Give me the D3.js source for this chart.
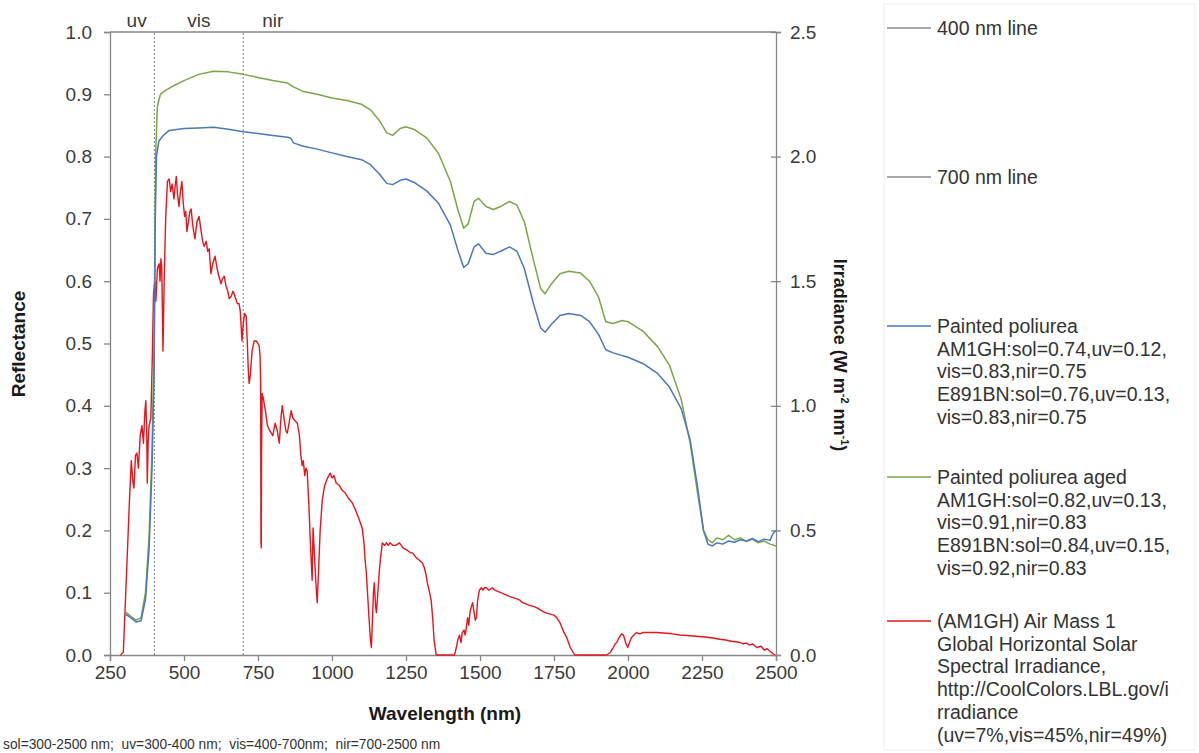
<!DOCTYPE html>
<html>
<head>
<meta charset="utf-8">
<script src="https://cdn.jsdelivr.net/npm/d3@7"></script>
<style>
  body { margin: 0; background: #fff; }
  svg { display: block; font-family: "Liberation Sans", Arial, sans-serif; }
</style>
</head>
<body>
<svg id="chart" width="1199" height="753"></svg>
<script>
// reflectance spectra [wavelength nm, reflectance]
const paintedPoliurea = [[300,0.066],[320,0.06],[338,0.053],[355,0.055],[370,0.09],[382,0.17],[392,0.3],[399,0.45],[403,0.7],[407,0.8],[415,0.825],[432,0.835],[450,0.842],[500,0.845],[550,0.846],[600,0.847],[650,0.844],[700,0.84],[750,0.837],[800,0.834],[850,0.831],[860,0.83],[870,0.822],[900,0.817],[950,0.812],[1000,0.806],[1050,0.8],[1100,0.795],[1130,0.787],[1160,0.772],[1185,0.757],[1205,0.755],[1230,0.762],[1250,0.764],[1280,0.758],[1320,0.745],[1360,0.725],[1400,0.69],[1425,0.65],[1445,0.622],[1460,0.628],[1480,0.655],[1495,0.66],[1520,0.645],[1545,0.643],[1570,0.648],[1600,0.655],[1625,0.648],[1650,0.62],[1680,0.565],[1705,0.525],[1720,0.518],[1740,0.53],[1770,0.545],[1800,0.548],[1840,0.545],[1870,0.535],[1900,0.515],[1925,0.49],[1950,0.485],[2000,0.478],[2050,0.468],[2100,0.452],[2140,0.43],[2180,0.395],[2210,0.345],[2235,0.27],[2255,0.2],[2270,0.178],[2285,0.175],[2300,0.18],[2320,0.178],[2340,0.183],[2360,0.181],[2380,0.185],[2400,0.183],[2420,0.187],[2440,0.182],[2460,0.186],[2480,0.184],[2490,0.195],[2500,0.2]];

const paintedPoliureaAged = [[300,0.07],[320,0.062],[338,0.056],[355,0.06],[370,0.1],[382,0.19],[392,0.33],[399,0.5],[404,0.8],[410,0.88],[420,0.9],[440,0.907],[470,0.915],[500,0.922],[550,0.932],[600,0.937],[650,0.936],[700,0.932],[750,0.927],[800,0.922],[850,0.918],[870,0.912],[900,0.905],[950,0.9],[1000,0.894],[1050,0.89],[1100,0.884],[1130,0.875],[1160,0.858],[1185,0.838],[1205,0.834],[1230,0.845],[1250,0.848],[1280,0.843],[1320,0.83],[1360,0.805],[1400,0.76],[1425,0.715],[1445,0.685],[1460,0.692],[1480,0.728],[1495,0.733],[1520,0.72],[1545,0.715],[1570,0.72],[1600,0.728],[1625,0.722],[1650,0.695],[1680,0.635],[1705,0.588],[1720,0.58],[1740,0.595],[1770,0.612],[1800,0.616],[1840,0.613],[1870,0.6],[1900,0.575],[1925,0.535],[1950,0.532],[1980,0.537],[2000,0.535],[2050,0.52],[2100,0.495],[2140,0.465],[2180,0.41],[2210,0.34],[2235,0.26],[2255,0.2],[2270,0.185],[2285,0.18],[2300,0.188],[2320,0.185],[2340,0.192],[2360,0.185],[2380,0.188],[2400,0.182],[2420,0.186],[2440,0.18],[2460,0.183],[2480,0.178],[2500,0.175]];

// solar irradiance [wavelength nm, W m-2 nm-1]
const am1gh = [[285,0],[295,0.01],[305,0.3],[315,0.6],[322,0.78],[327,0.7],[331,0.67],[336,0.8],[341,0.81],[346,0.75],[352,0.88],[358,0.92],[363,0.85],[368,0.98],[371,1.02],[374,0.9],[376,0.69],[379,0.85],[382,0.92],[388,0.95],[393,1.2],[397,1.45],[401,1.5],[405,1.42],[410,1.55],[416,1.57],[419,1.5],[422,1.59],[425,1.55],[429,1.22],[433,1.5],[438,1.75],[444,1.9],[450,1.91],[455,1.86],[460,1.89],[466,1.83],[470,1.88],[474,1.92],[478,1.85],[483,1.8],[488,1.86],[493,1.9],[497,1.82],[502,1.76],[506,1.78],[510,1.7],[515,1.74],[520,1.78],[524,1.79],[530,1.72],[537,1.67],[544,1.74],[551,1.76],[558,1.7],[563,1.66],[568,1.64],[575,1.66],[580,1.62],[585,1.63],[588,1.58],[591,1.53],[597,1.57],[605,1.6],[612,1.55],[618,1.52],[625,1.49],[630,1.51],[636,1.52],[642,1.48],[648,1.46],[653,1.43],[660,1.44],[665,1.46],[669,1.45],[675,1.43],[680,1.41],[686,1.41],[690,1.38],[693,1.32],[696,1.26],[700,1.33],[705,1.37],[710,1.36],[714,1.25],[717,1.15],[720,1.09],[724,1.12],[730,1.22],[737,1.26],[744,1.26],[750,1.25],[754,1.24],[757,1.2],[759,1.1],[760,0.45],[761,0.43],[762,0.8],[764,1.05],[768,1.03],[775,0.98],[782,0.92],[790,0.9],[800,0.88],[808,0.93],[815,0.9],[822,0.85],[828,0.96],[832,1.0],[838,0.95],[844,0.9],[849,0.89],[855,0.93],[862,0.98],[868,0.95],[875,0.94],[883,0.93],[890,0.88],[895,0.8],[899,0.76],[903,0.78],[908,0.72],[912,0.75],[916,0.74],[922,0.6],[927,0.45],[933,0.3],[936,0.51],[940,0.42],[945,0.3],[950,0.21],[955,0.35],[960,0.5],[967,0.62],[975,0.68],[985,0.71],[994,0.73],[1000,0.71],[1007,0.72],[1014,0.69],[1025,0.68],[1035,0.66],[1045,0.65],[1055,0.63],[1062,0.62],[1069,0.61],[1080,0.58],[1090,0.55],[1096,0.53],[1102,0.51],[1108,0.45],[1112,0.38],[1116,0.33],[1120,0.25],[1125,0.15],[1130,0.06],[1133,0.03],[1137,0.15],[1140,0.25],[1143,0.29],[1147,0.2],[1150,0.17],[1155,0.25],[1160,0.34],[1165,0.4],[1170,0.45],[1178,0.44],[1184,0.45],[1190,0.44],[1196,0.45],[1205,0.44],[1215,0.44],[1228,0.45],[1240,0.43],[1255,0.42],[1265,0.41],[1272,0.41],[1285,0.39],[1295,0.38],[1305,0.37],[1312,0.35],[1318,0.32],[1322,0.29],[1328,0.26],[1335,0.22],[1340,0.15],[1345,0.06],[1352,0],[1414,0],[1420,0.03],[1425,0.06],[1431,0.08],[1436,0.05],[1440,0.09],[1446,0.1],[1450,0.08],[1454,0.11],[1458,0.15],[1462,0.12],[1466,0.17],[1470,0.19],[1475,0.21],[1480,0.17],[1484,0.14],[1488,0.15],[1492,0.22],[1498,0.26],[1505,0.27],[1510,0.26],[1515,0.27],[1522,0.27],[1530,0.26],[1542,0.27],[1550,0.26],[1560,0.255],[1570,0.25],[1580,0.245],[1590,0.24],[1600,0.235],[1612,0.23],[1625,0.225],[1635,0.22],[1644,0.21],[1655,0.205],[1665,0.2],[1680,0.195],[1691,0.19],[1705,0.18],[1720,0.17],[1735,0.165],[1750,0.16],[1759,0.15],[1770,0.13],[1780,0.1],[1793,0.07],[1805,0.03],[1815,0.01],[1820,0],[1928,0],[1940,0.01],[1950,0.03],[1957,0.045],[1962,0.05],[1970,0.07],[1978,0.085],[1985,0.08],[1992,0.05],[1999,0.03],[2005,0.05],[2012,0.07],[2020,0.08],[2029,0.09],[2040,0.085],[2050,0.09],[2063,0.09],[2080,0.09],[2097,0.09],[2120,0.088],[2150,0.085],[2175,0.08],[2200,0.078],[2230,0.075],[2260,0.072],[2287,0.068],[2310,0.063],[2330,0.06],[2350,0.055],[2365,0.053],[2378,0.05],[2390,0.045],[2400,0.048],[2410,0.04],[2420,0.045],[2435,0.03],[2450,0.035],[2460,0.02],[2470,0.025],[2480,0.015],[2490,0.005],[2497,0]];

const xTicks = [250, 500, 750, 1000, 1250, 1500, 1750, 2000, 2250, 2500];
const yLeftTicks = [0, 0.1, 0.2, 0.3, 0.4, 0.5, 0.6, 0.7, 0.8, 0.9, 1.0];
const yRightTicks = [0, 0.5, 1.0, 1.5, 2.0, 2.5];
const bandLines = [400, 700];
const bandLabels = [{ text: "uv", at: 340 }, { text: "vis", at: 550 }, { text: "nir", at: 800 }];

const legendItems = [
  { color: "#8c8c8c", y: 28, lines: ["400 nm line"] },
  { color: "#8c8c8c", y: 177, lines: ["700 nm line"] },
  { color: "#4a78bd", y: 326, lines: ["Painted poliurea", "AM1GH:sol=0.74,uv=0.12,", "vis=0.83,nir=0.75", "E891BN:sol=0.76,uv=0.13,", "vis=0.83,nir=0.75"] },
  { color: "#79a646", y: 477, lines: ["Painted poliurea aged", "AM1GH:sol=0.82,uv=0.13,", "vis=0.91,nir=0.83", "E891BN:sol=0.84,uv=0.15,", "vis=0.92,nir=0.83"] },
  { color: "#e8141b", y: 621, lines: ["(AM1GH) Air Mass 1", "Global Horizontal Solar", "Spectral Irradiance,", "http://CoolColors.LBL.gov/i", "rradiance", "(uv=7%,vis=45%,nir=49%)"] }
];

const svg = d3.select("#chart");
const axisColor = "#868686";
const textColor = "#3b3b3b";

const x = d3.scaleLinear().domain([250, 2500]).range([110, 776]);
const yL = d3.scaleLinear().domain([0, 1]).range([655, 32]);
const yR = d3.scaleLinear().domain([0, 2.5]).range([655, 32]);

svg.append("defs").append("clipPath").attr("id", "plot")
  .append("rect").attr("x", 110).attr("y", 28).attr("width", 668).attr("height", 628);

// top frame line
svg.append("line")
  .attr("x1", x(250)).attr("x2", x(2500)).attr("y1", yL(1)).attr("y2", yL(1))
  .attr("stroke", axisColor).attr("stroke-width", 1.3);

// 400 / 700 nm dotted lines
svg.append("g").selectAll("line").data(bandLines).join("line")
  .attr("x1", d => x(d)).attr("x2", d => x(d))
  .attr("y1", yL(0)).attr("y2", yL(1))
  .attr("stroke", "#808080").attr("stroke-width", 1)
  .attr("stroke-dasharray", "2,2");

svg.append("g").selectAll("text").data(bandLabels).join("text")
  .attr("x", d => x(d.at)).attr("y", 27)
  .attr("text-anchor", "middle")
  .style("font-size", "19px").style("fill", textColor)
  .text(d => d.text);

// axes
function styleAxis(g) {
  g.select(".domain").attr("stroke", axisColor).attr("stroke-width", 1.3);
  g.selectAll(".tick line").attr("stroke", axisColor).attr("stroke-width", 1.3);
  g.selectAll(".tick text").style("font-size", "19px").style("fill", textColor)
    .style("font-family", "'Liberation Sans', Arial, sans-serif");
}

svg.append("g").attr("transform", "translate(110,0)")
  .call(d3.axisLeft(yL).tickValues(yLeftTicks).tickFormat(d3.format(".1f")).tickSizeOuter(0).tickSize(6).tickPadding(12))
  .call(styleAxis);

const rightAxis = svg.append("g").attr("transform", "translate(776,0)")
  .call(d3.axisRight(yR).tickValues(yRightTicks).tickFormat(d3.format(".1f")).tickSizeOuter(0).tickSize(5).tickPadding(9))
  .call(styleAxis);
rightAxis.selectAll(".tick line").attr("x1", -5);

svg.append("g").attr("transform", "translate(0,655)")
  .call(d3.axisBottom(x).tickValues(xTicks).tickFormat(d3.format("d")).tickSizeOuter(0).tickSize(6).tickPadding(5))
  .call(styleAxis);

// series
const lineL = d3.line().x(d => x(d[0])).y(d => yL(d[1]));
const lineR = d3.line().x(d => x(d[0])).y(d => yR(d[1]));
const plot = svg.append("g").attr("clip-path", "url(#plot)");

plot.append("path").datum(am1gh).attr("d", lineR)
  .attr("fill", "none").attr("stroke", "#e8141b").attr("stroke-width", 1.4).attr("stroke-linejoin", "round");
plot.append("path").datum(paintedPoliureaAged).attr("d", lineL)
  .attr("fill", "none").attr("stroke", "#79a646").attr("stroke-width", 1.5).attr("stroke-linejoin", "round");
plot.append("path").datum(paintedPoliurea).attr("d", lineL)
  .attr("fill", "none").attr("stroke", "#4a78bd").attr("stroke-width", 1.5).attr("stroke-linejoin", "round");

// axis titles
svg.append("text")
  .attr("transform", "translate(25,344) rotate(-90)")
  .attr("text-anchor", "middle")
  .style("font-size", "19px").style("font-weight", "bold").style("fill", "#1a1a1a")
  .text("Reflectance");

svg.append("text")
  .attr("x", 445).attr("y", 720)
  .attr("text-anchor", "middle")
  .style("font-size", "19px").style("font-weight", "bold").style("fill", "#1a1a1a")
  .text("Wavelength (nm)");

const irr = svg.append("text")
  .attr("transform", "translate(834,355) rotate(90)")
  .attr("text-anchor", "middle")
  .style("font-size", "18px").style("font-weight", "bold").style("fill", "#1a1a1a");
irr.append("tspan").text("Irradiance (W m");
irr.append("tspan").attr("dy", -7).style("font-size", "11px").text("-2");
irr.append("tspan").attr("dy", 7).text(" nm");
irr.append("tspan").attr("dy", -7).style("font-size", "11px").text("-1");
irr.append("tspan").attr("dy", 7).text(")");

// footnote
svg.append("text")
  .attr("x", 3).attr("y", 749)
  .attr("xml:space", "preserve")
  .style("font-size", "13.8px").style("fill", "#333")
  .style("white-space", "pre")
  .text("sol=300-2500 nm;  uv=300-400 nm;  vis=400-700nm;  nir=700-2500 nm");

// legend
svg.append("rect")
  .attr("x", 884).attr("y", 4).attr("width", 311).attr("height", 746)
  .attr("fill", "none").attr("stroke", "#efefef");

const leg = svg.append("g").selectAll("g").data(legendItems).join("g")
  .attr("transform", d => `translate(0,${d.y})`);
leg.append("line")
  .attr("x1", 887).attr("x2", 931).attr("y1", 0).attr("y2", 0)
  .attr("stroke", d => d.color).attr("stroke-width", 1.3);
leg.append("text")
  .style("font-size", "19.5px").style("fill", "#333")
  .selectAll("tspan").data(d => d.lines).join("tspan")
  .attr("x", 937).attr("y", (d, i) => i * 22.7 + 7)
  .text(d => d);
</script>
</body>
</html>
